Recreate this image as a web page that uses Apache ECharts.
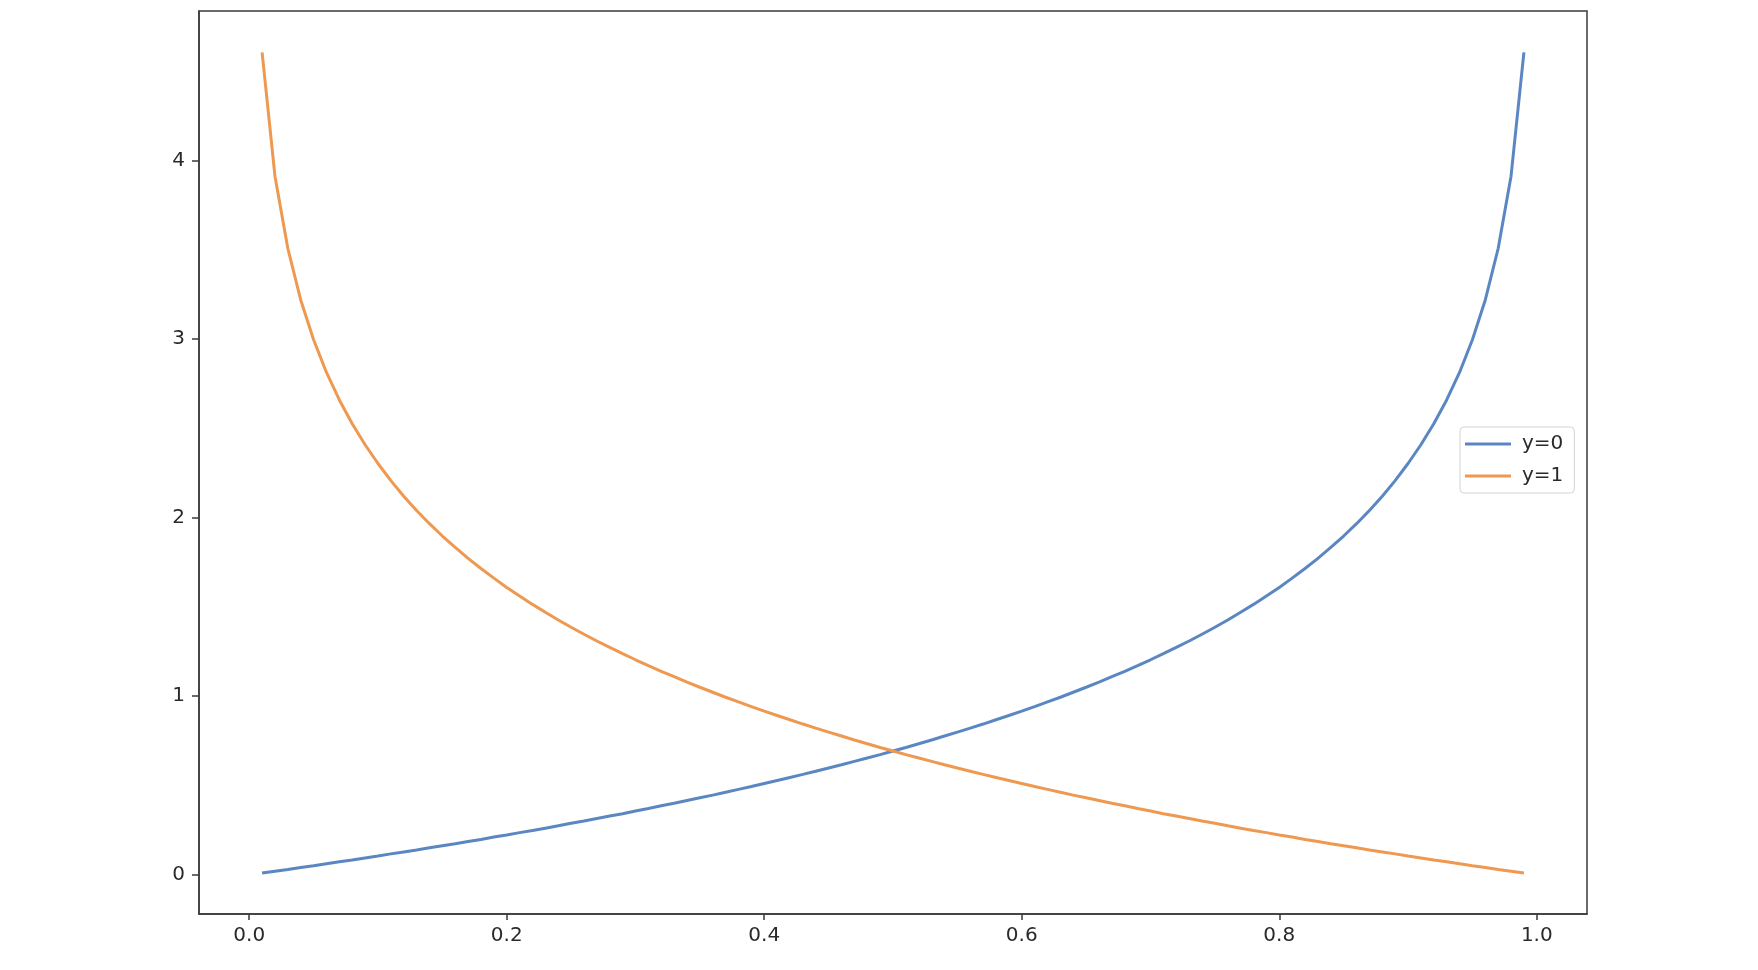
<!DOCTYPE html>
<html>
<head>
<meta charset="utf-8">
<script src="https://cdn.jsdelivr.net/npm/echarts@6/dist/echarts.min.js"></script>
<style>
html,body{margin:0;padding:0;background:#fff;}
#chart{width:1758px;height:970px;}
</style>
</head>
<body>
<div id="chart"></div>
<script>
const pValues = [0.01,0.02,0.03,0.04,0.05,0.06,0.07,0.08,0.09,0.10,
0.11,0.12,0.13,0.14,0.15,0.16,0.17,0.18,0.19,0.20,
0.21,0.22,0.23,0.24,0.25,0.26,0.27,0.28,0.29,0.30,
0.31,0.32,0.33,0.34,0.35,0.36,0.37,0.38,0.39,0.40,
0.41,0.42,0.43,0.44,0.45,0.46,0.47,0.48,0.49,0.50,
0.51,0.52,0.53,0.54,0.55,0.56,0.57,0.58,0.59,0.60,
0.61,0.62,0.63,0.64,0.65,0.66,0.67,0.68,0.69,0.70,
0.71,0.72,0.73,0.74,0.75,0.76,0.77,0.78,0.79,0.80,
0.81,0.82,0.83,0.84,0.85,0.86,0.87,0.88,0.89,0.90,
0.91,0.92,0.93,0.94,0.95,0.96,0.97,0.98,0.99];

const lossY1 = [4.605,3.912,3.507,3.219,2.996,2.813,2.659,2.526,2.408,2.303,
2.207,2.120,2.040,1.966,1.897,1.833,1.772,1.715,1.661,1.609,
1.561,1.514,1.470,1.427,1.386,1.347,1.309,1.273,1.238,1.204,
1.171,1.139,1.109,1.079,1.050,1.022,0.994,0.968,0.942,0.916,
0.892,0.868,0.844,0.821,0.799,0.777,0.755,0.734,0.713,0.693,
0.673,0.654,0.635,0.616,0.598,0.580,0.562,0.545,0.528,0.511,
0.494,0.478,0.462,0.446,0.431,0.416,0.400,0.386,0.371,0.357,
0.342,0.329,0.315,0.301,0.288,0.274,0.261,0.248,0.236,0.223,
0.211,0.198,0.186,0.174,0.163,0.151,0.139,0.128,0.117,0.105,
0.094,0.083,0.073,0.062,0.051,0.041,0.030,0.020,0.010];

const lossY0 = [0.010,0.020,0.030,0.041,0.051,0.062,0.073,0.083,0.094,0.105,
0.117,0.128,0.139,0.151,0.163,0.174,0.186,0.198,0.211,0.223,
0.236,0.248,0.261,0.274,0.288,0.301,0.315,0.329,0.342,0.357,
0.371,0.386,0.400,0.416,0.431,0.446,0.462,0.478,0.494,0.511,
0.528,0.545,0.562,0.580,0.598,0.616,0.635,0.654,0.673,0.693,
0.713,0.734,0.755,0.777,0.799,0.821,0.844,0.868,0.892,0.916,
0.942,0.968,0.994,1.022,1.050,1.079,1.109,1.139,1.171,1.204,
1.238,1.273,1.309,1.347,1.386,1.427,1.470,1.514,1.561,1.609,
1.661,1.715,1.772,1.833,1.897,1.966,2.040,2.120,2.207,2.303,
2.408,2.526,2.659,2.813,2.996,3.219,3.507,3.912,4.605];

const xTicks = [0.0,0.2,0.4,0.6,0.8,1.0];
const yTicks = [0,1,2,3,4];
const seriesNames = ['y=0','y=1'];

const chart = echarts.init(document.getElementById('chart'), null, {renderer:'canvas'});
const font = 'DejaVu Sans';
const axisColor = '#3a3a3a';
const labelColor = '#2a2a2a';

const option = {
  animation:false,
  backgroundColor:'#fff',
  grid:{left:199,right:171,top:11,bottom:56,show:true,borderColor:axisColor,borderWidth:1.5,backgroundColor:'transparent'},
  legend:{
    show:true,
    orient:'vertical',
    left:1460, top:427,
    data:seriesNames,
    icon:'path://M0,0 L46,0 L46,3 L0,3 Z',
    itemWidth:46, itemHeight:3, itemGap:10,
    padding:[6,11,6,5],
    backgroundColor:'#fff',
    borderColor:'#d4d4d4', borderWidth:1, borderRadius:4,
    textStyle:{fontFamily:font,fontSize:20,color:labelColor,lineHeight:22,padding:[0,0,0,6]}
  },
  xAxis:{
    type:'value', min:-0.039, max:1.039,
    axisLine:{show:true,onZero:false,lineStyle:{color:axisColor,width:1.5}},
    axisTick:{show:true,inside:false,length:6,customValues:xTicks,lineStyle:{color:axisColor,width:1.5}},
    axisLabel:{show:true,customValues:xTicks,margin:12,fontFamily:font,fontSize:20,color:labelColor,
      formatter:v=>Number(v).toFixed(1)},
    splitLine:{show:false}
  },
  yAxis:{
    type:'value', min:-0.2197, max:4.837,
    axisLine:{show:true,onZero:false,lineStyle:{color:axisColor,width:1.5}},
    axisTick:{show:true,inside:false,length:7,customValues:yTicks,lineStyle:{color:axisColor,width:1.5}},
    axisLabel:{show:true,customValues:yTicks,margin:14,fontFamily:font,fontSize:20,color:labelColor,
      formatter:v=>String(Math.round(v))},
    splitLine:{show:false}
  },
  series:[
    {name:seriesNames[0],type:'line',showSymbol:false,symbol:'none',
      data:pValues.map((p,i)=>[p,lossY0[i]]),
      lineStyle:{color:'#5a87c2',width:3},itemStyle:{color:'#5a87c2'}},
    {name:seriesNames[1],type:'line',showSymbol:false,symbol:'none',
      data:pValues.map((p,i)=>[p,lossY1[i]]),
      lineStyle:{color:'#ee9850',width:3},itemStyle:{color:'#ee9850'}}
  ]
};
chart.setOption(option);
</script>
</body>
</html>
